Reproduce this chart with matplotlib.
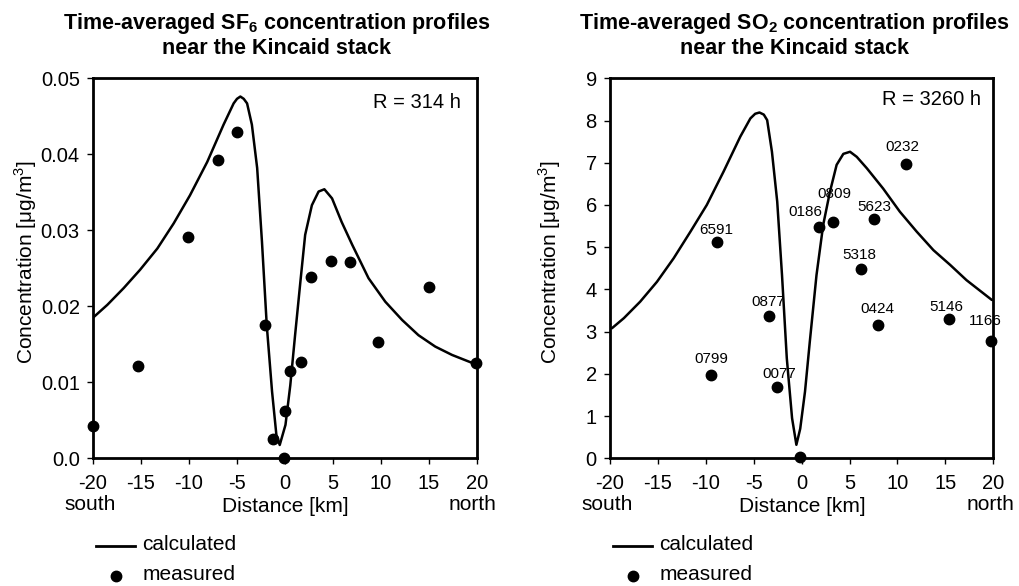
import numpy as np
import matplotlib
matplotlib.use("Agg")
import matplotlib.pyplot as plt
from matplotlib.lines import Line2D

plt.rcParams["font.family"] = ["Liberation Sans", "DejaVu Sans"]
plt.rcParams["mathtext.fontset"] = "custom"
plt.rcParams["mathtext.rm"] = "Liberation Sans"
plt.rcParams["mathtext.bf"] = "Liberation Sans:bold"
plt.rcParams["axes.unicode_minus"] = False

# ---- data ----
# SF6, left panel
sf6_calc_x = [-20, -18.5, -16.8, -15.1, -13.3, -11.6, -9.9, -8.1, -6.4, -5.35, -5.0,
              -4.65, -4.3, -3.95, -3.45, -2.9, -2.4, -1.9, -1.35, -0.9, -0.55, 0.05,
              0.55, 1.05, 1.6, 2.1, 2.8, 3.5, 4.1, 4.9, 5.9, 7.0, 8.7, 10.45, 12.2,
              13.9, 15.65, 17.4, 20]
sf6_calc_y = [0.0185, 0.0202, 0.0224, 0.0248, 0.0276, 0.0309, 0.0346, 0.0390, 0.0439,
              0.0467, 0.0473, 0.0476, 0.0473, 0.0467, 0.0439, 0.0382, 0.0285, 0.0175,
              0.0088, 0.0031, 0.00175, 0.0044, 0.0096, 0.0162, 0.0232, 0.0294, 0.0333,
              0.0351, 0.0354, 0.0342, 0.0311, 0.0281, 0.0237, 0.0206, 0.0182, 0.0162,
              0.0147, 0.0136, 0.0123]
sf6_meas_x = [-20, -15.3, -10.1, -7.0, -5.0, -2.1, -1.3, -0.07, 0.03, 0.56, 1.63,
              2.74, 4.79, 6.77, 9.72, 15.03, 19.93]
sf6_meas_y = [0.0042, 0.0122, 0.0291, 0.0393, 0.0429, 0.0175, 0.0025, 0.0001, 0.0062,
              0.0115, 0.0127, 0.0238, 0.0260, 0.0258, 0.0153, 0.0226, 0.0125]

# SO2, right panel
so2_calc_x = [-19.8, -18.55, -16.85, -15.1, -13.35, -11.6, -9.9, -8.15, -6.4, -5.35,
              -4.85, -4.4, -3.95, -3.6, -3.1, -2.55, -2.05, -1.55, -1.0, -0.55, -0.15,
              0.35, 0.85, 1.55, 2.25, 2.95, 3.65, 4.35, 5.05, 5.75, 6.8, 8.5, 10.25,
              12.0, 13.75, 15.5, 17.2, 19.85]
so2_calc_y = [3.08, 3.32, 3.71, 4.18, 4.74, 5.37, 6.0, 6.79, 7.62, 8.05, 8.16, 8.19,
              8.14, 8.01, 7.26, 6.08, 4.34, 2.37, 0.95, 0.32, 0.7, 1.58, 2.76, 4.34,
              5.53, 6.31, 6.95, 7.21, 7.26, 7.14, 6.87, 6.39, 5.84, 5.37, 4.93, 4.58,
              4.22, 3.75]
so2_meas_x = [-9.50, -8.80, -3.41, -2.61, -0.17, 1.81, 3.23, 6.19, 7.51, 7.97, 10.92,
              15.34, 19.72]
so2_meas_y = [1.97, 5.12, 3.38, 1.68, 0.02, 5.49, 5.59, 4.48, 5.66, 3.16, 6.96, 3.30, 2.78]
so2_ids = ["0799", "6591", "0877", "0077", "", "0186", "0809", "5318", "5623", "0424",
           "0232", "5146", "1166"]

x_ticks = [-20, -15, -10, -5, 0, 5, 10, 15, 20]
sf6_ticks = [0.0, 0.01, 0.02, 0.03, 0.04, 0.05]
sf6_tick_labels = ["0.0", "0.01", "0.02", "0.03", "0.04", "0.05"]
so2_ticks = [0, 1, 2, 3, 4, 5, 6, 7, 8, 9]

# label offsets (pixels) for station ids
id_offsets = [(1, 16), (-1, 12), (-1, 14), (3, 13), (0, 0), (-14, 14), (2, 28),
              (-2, 14), (1, 12), (-1, 16), (-4, 17), (-2, 12), (-5, 20)]

W, H = 1019, 586
fig = plt.figure(figsize=(W / 100, H / 100), dpi=100)


def px(x, y):
    return x / W, 1 - y / H


def make_axes(left_px, width_px):
    ax = fig.add_axes([left_px / W, 1 - 458.3 / H, width_px / W, 380 / H])
    for s in ax.spines.values():
        s.set_linewidth(2.0)
    ax.tick_params(direction="out", length=4.5, width=1, labelsize=14.5, pad=5,
                   top=False, right=False)
    ax.tick_params(axis="x", pad=6.5)
    ax.set_xlim(-20, 20)
    ax.set_xticks(x_ticks)
    ax.set_xticklabels([str(t) for t in x_ticks])
    return ax


line_kw = dict(color="black", lw=1.8, zorder=2, solid_joinstyle="round",
               solid_capstyle="round")

# ---- left: SF6 ----
ax1 = make_axes(93, 384)
ax1.plot(sf6_calc_x, sf6_calc_y, **line_kw)
ax1.plot(sf6_meas_x, sf6_meas_y, "o", color="black", ms=7.5, clip_on=False, zorder=3)
ax1.set_ylim(0, 0.05)
ax1.set_yticks(sf6_ticks)
ax1.set_yticklabels(sf6_tick_labels)
ax1.text(0.9576, 0.935, "R = 314 h", transform=ax1.transAxes, ha="right", va="center",
         fontsize=14.5)

# ---- right: SO2 ----
ax2 = make_axes(610, 383.3)
ax2.plot(so2_calc_x, so2_calc_y, **line_kw)
ax2.plot(so2_meas_x, so2_meas_y, "o", color="black", ms=7.5, clip_on=False, zorder=3)
for xv, yv, lab, off in zip(so2_meas_x, so2_meas_y, so2_ids, id_offsets):
    if lab:
        ax2.annotate(lab, (xv, yv), xytext=off, textcoords="offset pixels",
                     ha="center", va="center", fontsize=11)
ax2.set_ylim(0, 9)
ax2.set_yticks(so2_ticks)
ax2.text(0.968, 0.944, "R = 3260 h", transform=ax2.transAxes, ha="right", va="center",
         fontsize=14.5)

# ---- titles, labels, legends ----
titles = [("SF", "6"), ("SO", "2")]
for shift, (species, sub), ycx in zip([0, 517], titles, [26, 550]):
    cx = 277 + shift
    fig.text(*px(cx, 29), "Time-averaged %s$_\\mathbf{%s}$ concentration profiles" % (species, sub),
             ha="center", va="baseline", fontsize=15.5, fontweight="bold")
    fig.text(*px(cx, 54), "near the Kincaid stack", ha="center", va="baseline",
             fontsize=15.5, fontweight="bold")
    fig.text(*px(ycx, 262), "Concentration [\u03bcg/m$^\\mathrm{3}$]", rotation=90,
             ha="center", va="center", fontsize=15)
    fig.text(*px(90.5 + shift, 505), "south", ha="center", va="center", fontsize=15)
    fig.text(*px(473 + shift, 505), "north", ha="center", va="center", fontsize=15)
    fig.text(*px(285.5 + shift, 507), "Distance [km]", ha="center", va="center", fontsize=15)

    x0, y0 = px(96 + shift, 545.7)
    x1, _ = px(135 + shift, 545.7)
    fig.lines.append(Line2D([x0, x1], [y0, y0], transform=fig.transFigure,
                            color="black", lw=2))
    fig.text(*px(141.7 + shift, 545), "calculated", ha="left", va="center", fontsize=15)
    dx, dy = px(116 + shift, 575.7)
    fig.lines.append(Line2D([dx], [dy], transform=fig.transFigure, marker="o",
                            color="black", ms=7.5, ls="none"))
    fig.text(*px(142.7 + shift, 575), "measured", ha="left", va="center", fontsize=15)

fig.savefig("out.png", dpi=100)
